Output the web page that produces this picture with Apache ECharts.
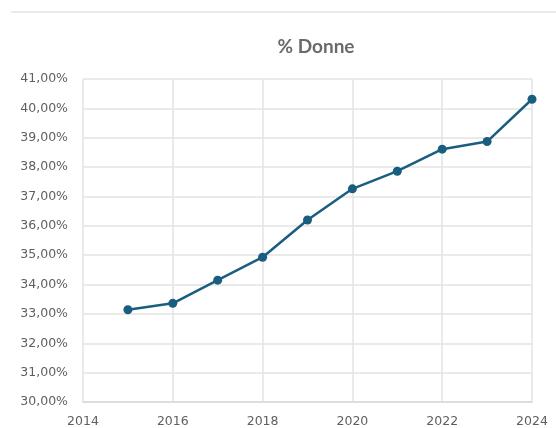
<!DOCTYPE html>
<html>
<head>
<meta charset="utf-8">
<title>% Donne</title>
<script src="https://cdn.jsdelivr.net/npm/echarts@6/dist/echarts.min.js"></script>
<style>
html, body { margin: 0; padding: 0; background: #ffffff; }
#main { width: 556px; height: 428px; }
</style>
</head>
<body>
<div id="main"></div>
<script type="text/javascript">
// dati
var anni = [2015, 2016, 2017, 2018, 2019, 2020, 2021, 2022, 2023, 2024];
var donne = [33.14, 33.36, 34.15, 34.93, 36.20, 37.26, 37.86, 38.61, 38.87, 40.31];

var punti = [];
for (var i = 0; i < anni.length; i++) {
	punti.push([anni[i], donne[i]]);
}

var myChart = echarts.init(document.getElementById('main'));

var option = {
	backgroundColor: '#ffffff',
	textStyle: { fontFamily: 'DejaVu Sans' },
	title: {
		text: '% Donne',
		left: 311,
		textAlign: 'center',
		top: 32,
		textStyle: { fontFamily: 'Lato', fontSize: 19, fontWeight: 'bold', color: '#6a6a6a' }
	},
	// linea grigia in alto
	graphic: [{
		type: 'line',
		shape: { x1: 11, y1: 12, x2: 556, y2: 12 },
		style: { stroke: '#e3e3e3', lineWidth: 1.5 }
	}],
	grid: { left: 83, right: 24, top: 79, bottom: 26 },
	xAxis: {
		type: 'value',
		min: 2014,
		max: 2024,
		interval: 2,
		axisLine: { show: true, lineStyle: { color: '#d9d9d9', width: 1.5 } },
		axisTick: { show: false },
		axisLabel: {
			color: '#5f5f5f',
			fontSize: 12.5,
			margin: 13,
			formatter: function (v) { return String(v); }
		},
		splitLine: { show: true, lineStyle: { color: '#e3e3e3', width: 1.5 } }
	},
	yAxis: {
		type: 'value',
		min: 30,
		max: 41,
		interval: 1,
		axisLine: { show: false },
		axisTick: { show: false },
		axisLabel: {
			color: '#5f5f5f',
			fontSize: 12.5,
			margin: 15,
			formatter: function (v) { return v.toFixed(2).replace('.', ',') + '%'; }
		},
		splitLine: { show: true, lineStyle: { color: '#e3e3e3', width: 1.5 } }
	},
	series: [{
		name: '% Donne',
		type: 'line',
		data: punti,
		symbol: 'circle',
		symbolSize: 9,
		itemStyle: { color: '#1a5e7f' },
		lineStyle: { color: '#1a5e7f', width: 2.5 },
		animation: false
	}]
};

myChart.setOption(option);
</script>
</body>
</html>
